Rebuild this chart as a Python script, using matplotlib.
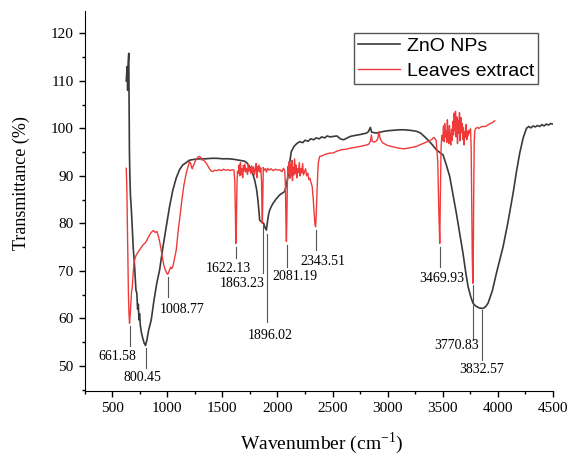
import numpy as np
import matplotlib
matplotlib.use("Agg")
import matplotlib.pyplot as plt
from matplotlib.ticker import MultipleLocator

# ZnO NPs spectrum (wavenumber, transmittance)
zno_x = [627, 635, 640, 645, 650, 653, 656, 660, 665, 672, 680, 690, 703, 710, 715, 723, 730, 737,
         742, 748, 755, 765, 775, 790, 802, 815, 830, 854, 880, 905, 930, 960, 990, 1020, 1050, 1080,
         1111, 1140, 1172, 1200, 1250, 1300, 1350, 1400, 1450, 1500, 1550, 1600, 1650, 1700, 1720,
         1747, 1770, 1792, 1810, 1822, 1832, 1838, 1850, 1862, 1875, 1885, 1899, 1910, 1920, 1929,
         1945, 1959, 1990, 2020, 2040, 2065, 2080, 2095, 2110, 2125, 2150, 2175, 2201, 2230, 2250,
         2280, 2300, 2330, 2350, 2380, 2400, 2430, 2450, 2480, 2503, 2540, 2570, 2600, 2625, 2660,
         2700, 2750, 2807, 2825, 2843, 2855, 2898, 2950, 3000, 3050, 3109, 3150, 3200, 3260, 3300,
         3351, 3400, 3442, 3470, 3503, 3530, 3563, 3590, 3624, 3655, 3684, 3710, 3730, 3755, 3775,
         3800, 3832, 3866, 3890, 3911, 3950, 3987, 4020, 4048, 4090, 4139, 4170, 4199, 4230, 4260,
         4280, 4300, 4320, 4340, 4360, 4381, 4400, 4420, 4440, 4460, 4480, 4500]
zno_y = [110, 113, 108, 114, 115.8, 104, 95, 90, 86, 83.5, 80, 75, 70.9, 68, 66, 65.3, 62, 63,
         59.7, 61, 58.5, 57, 56, 54.8, 54.3, 55.5, 57.5, 59.7, 64, 67.5, 70.2, 75, 79.3, 83.5, 87, 89.5,
         91.3, 92.3, 92.8, 93.3, 93.5, 93.6, 93.6, 93.7, 93.7, 93.6, 93.6, 93.5, 93.3, 93.1, 92.8,
         92, 90.8, 89.2, 87.2, 85, 82.5, 80.7, 80.4, 80.2, 80, 79.2, 78.6, 80.5, 82, 82.8,
         83.6, 84.2, 85.2, 86, 86.3, 86.7, 88, 89.9, 92.7, 95.1, 96.2, 96.8, 97.2, 97.0, 97.5,
         97.3, 97.8, 97.6, 98, 97.8, 98.2, 98.0, 98.4, 98.2, 98.3, 98.4, 97.8, 97.6, 97.9, 98.3,
         98.5, 98.7, 99, 99.3, 100.2, 99.2, 99, 99.3, 99.5, 99.6, 99.7, 99.7, 99.6, 99.4, 99,
         97.9, 96.7, 95.5, 95, 94.4, 92.5, 89.9, 86.5, 82.1, 77.8, 73.7, 69.5, 66.7, 64.5, 63.2,
         62.6, 62.2, 62.1, 62.5, 63.2, 65.8, 69.5, 72.5, 75.1, 80, 86.4, 91, 94.8, 98, 100,
         100.4, 100.1, 100.5, 100.3, 100.6, 100.4, 100.8, 100.5, 100.9, 100.7, 101.0, 100.9]

# Leaves extract spectrum
leaf_x = [627, 632, 637, 642, 647, 652, 657, 662, 668, 675, 682, 690, 697, 703, 715, 730, 748, 765,
          780, 795, 809, 825, 840, 850, 863, 875, 890, 905, 915, 922, 930, 940, 950, 960, 970, 980,
          990, 996, 1003, 1010, 1020, 1030, 1040, 1050, 1060, 1070, 1081, 1090, 1100, 1111, 1120,
          1130, 1141, 1150, 1160, 1172, 1185, 1195, 1202, 1212, 1220, 1228, 1232, 1240, 1250, 1260,
          1270, 1280, 1293, 1305, 1315, 1325, 1340, 1353, 1370, 1385, 1400, 1414, 1430, 1450, 1470,
          1490, 1510, 1530, 1550, 1570, 1590, 1605, 1612, 1618, 1622, 1627, 1632, 1637, 1645, 1652,
          1658, 1664, 1670, 1677, 1684, 1690, 1697, 1704, 1712, 1720, 1728, 1735, 1742, 1750, 1758,
          1766, 1774, 1782, 1790, 1798, 1806, 1812, 1818, 1825, 1832, 1840, 1848, 1855, 1860, 1863,
          1867, 1871, 1880, 1890, 1900, 1910, 1925, 1940, 1960, 1980, 2000, 2020, 2040, 2055, 2066,
          2072, 2077, 2081, 2085, 2090, 2095, 2100, 2106, 2112, 2118, 2124, 2130, 2136, 2142, 2148,
          2155, 2162, 2168, 2175, 2182, 2190, 2198, 2205, 2212, 2220, 2228, 2236, 2245, 2255, 2265,
          2275, 2285, 2295, 2305, 2315, 2325, 2333, 2340, 2346, 2352, 2358, 2365, 2372, 2383, 2400,
          2430, 2474, 2503, 2540, 2580, 2620, 2655, 2700, 2750, 2807, 2830, 2845, 2852, 2860, 2875,
          2895, 2910, 2921, 2930, 2945, 2958, 3000, 3050, 3109, 3150, 3200, 3260, 3300, 3350, 3397,
          3420, 3440, 3455, 3465, 3473, 3478, 3485, 3492, 3500, 3507, 3512, 3518, 3524, 3530, 3536,
          3542, 3548, 3555, 3561, 3567, 3573, 3580, 3586, 3592, 3598, 3604, 3610, 3616, 3622, 3628,
          3634, 3640, 3646, 3652, 3658, 3664, 3670, 3676, 3682, 3688, 3694, 3700, 3706, 3712, 3718,
          3724, 3730, 3738, 3745, 3752, 3758, 3763, 3768, 3773, 3777, 3781, 3786, 3792, 3800, 3815,
          3830, 3845, 3860, 3880, 3897, 3915, 3930, 3950, 3972]
leaf_y = [91.6, 88, 80, 72, 65, 61, 59, 60.5, 63, 65.5, 66.7, 69.5, 71.5, 72.3, 73.2, 73.8, 74.4, 75,
          75.5, 75.8, 76.2, 77, 77.6, 78, 78.3, 78.5, 78.1, 78.3, 77.6, 77, 76.2, 75, 73.5, 72.3, 71, 70.3,
          69.8, 69.5, 69.3, 69.6, 70.2, 70.8, 70.5, 70.9, 72, 73.2, 74.4, 76.5, 78.8, 80.7, 82.5,
          84.5, 86.4, 88, 89.2, 90.6, 91.7, 92.5, 93, 92.6, 91.8, 91.5, 92, 92.3, 92.9, 93.4,
          93.7, 94, 94.1, 93.8, 93.3, 93.5, 93, 92.7, 92, 91.4, 91, 90.9, 91.2, 91.1, 91.3,
          91.1, 91.4, 91.2, 91.3, 91.1, 91.3, 91.2, 89, 82, 75.8, 80, 88, 91, 90.5, 92.3,
          90, 92.8, 90.3, 91.5, 89.6, 92.2, 91, 92.5, 90.8, 91.6, 90.3, 92.4, 91, 91.8, 90.5,
          92.1, 90.7, 91.9, 90.2, 91.5, 92.6, 89.6, 92, 91, 92.3, 90.8, 91.7, 89, 82, 80,
          86, 91.8, 91.2, 91.5, 90.8, 91.6, 91.2, 91.5, 91.1, 91.4, 91.2, 91.3, 90.9, 91.6, 91,
          88, 80, 76.2, 81, 88.5, 92, 90.5, 93, 89.5, 92.5, 90, 93.3, 89, 91.8, 90.2,
          93.6, 90.5, 92.3, 89.6, 91.5, 90.7, 92.8, 90, 91.5, 90.6, 92.6, 90.2, 90.8, 91.5, 90,
          90.6, 89.2, 89.5, 88.5, 87.8, 85, 82, 79.8, 79.3, 82, 86, 90.5, 93, 94.1, 94.2,
          94.5, 94.8, 94.8, 95.2, 95.5, 95.6, 95.8, 96, 96.2, 96.5, 96.7, 97.4, 98.6, 97.3, 97.1,
          97.3, 97.8, 99.3, 98, 97.3, 96.9, 96.4, 96.1, 95.8, 95.7, 95.9, 96.2, 96.6, 97.1, 97.6,
          98.1, 97.5, 93, 82, 75.8, 85, 96, 98.5, 97.5, 100.5, 97.2, 101, 98.2, 99.5, 97,
          101.8, 98.5, 96.8, 100.6, 98, 96.5, 99.8, 97.5, 101.5, 98.6, 103.2, 99.5, 103.6, 98.2, 102.4,
          96.8, 101.7, 99, 103.3, 97.4, 102.3, 99.1, 101, 97.7, 100.2, 96.5, 99.3, 98.1, 100.8, 97.6,
          99.4, 98.4, 99.6, 99, 99.9, 96, 85, 73, 67.4, 72, 86, 97.5, 99.6, 100, 100.2,
          100, 100.3, 100.4, 100.4, 100.5, 100.8, 101, 101.2, 101.6]

# peak labels: text, line x, line top, line bottom, text x, text y
peak_txt = ['661.58', '800.45', '1008.77', '1622.13', '1863.23', '1896.02',
            '2081.19', '2343.51', '3469.93', '3770.83', '3832.57']
peak_x = [663, 802, 1008, 1624, 1864, 1902, 2083, 2346, 3476, 3775, 3852]
line_top = [58.4, 53.7, 68.8, 75.1, 79.7, 77.8, 75.5, 78.6, 75.1, 67.1, 61.8]
line_bot = [54.2, 49.5, 64.6, 72.7, 69.5, 59.3, 70.9, 74.4, 70.9, 55.5, 51.3]
txt_x = [544, 778, 1132, 1556, 1680, 1935, 2158, 2413, 3488, 3624, 3854]
txt_y = [52.0, 47.6, 61.9, 70.6, 67.4, 56.5, 68.8, 72.0, 68.5, 54.4, 49.2]

serif = 'Liberation Serif'

fig = plt.figure(figsize=(5.7, 4.58), dpi=100)
ax = fig.add_axes([0.1486, 0.147, 0.8214, 0.829])

ax.plot(zno_x, zno_y, color='#3a3a3a', lw=1.2, label='ZnO NPs')
ax.plot(leaf_x, leaf_y, color='#f03a3a', lw=1.0, label='Leaves extract')

for i in range(len(peak_txt)):
    ax.plot([peak_x[i], peak_x[i]], [line_top[i], line_bot[i]], color='#555555', lw=0.8)
    ax.text(txt_x[i], txt_y[i], peak_txt[i], ha='center', va='center',
            fontsize=10, family=serif)

ax.set_xlim(250, 4500)
ax.set_ylim(44.8, 124.7)
ax.xaxis.set_major_locator(MultipleLocator(500))
ax.xaxis.set_minor_locator(MultipleLocator(250))
ax.yaxis.set_major_locator(MultipleLocator(10))
ax.yaxis.set_minor_locator(MultipleLocator(5))
ax.set_xticks(range(500, 4501, 500))
ax.set_yticks(range(50, 121, 10))
ax.tick_params(which='major', direction='out', length=4, width=1, labelsize=11, pad=4)
ax.tick_params(which='minor', direction='out', length=2.5, width=1)
for lab in ax.get_xticklabels() + ax.get_yticklabels():
    lab.set_family(serif)

ax.spines['top'].set_visible(False)
ax.spines['right'].set_visible(False)

ax.set_xlabel('Wavenumber (cm$^{\\mathregular{-1}}$)', fontsize=14, family=serif)
ax.set_ylabel('Transmittance (%)', fontsize=13, family=serif)
ax.xaxis.set_label_coords(0.506, -0.103)
ax.yaxis.set_label_coords(-0.117, 0.548)

leg = ax.legend(loc='upper right', bbox_to_anchor=(0.968, 0.942), borderaxespad=0,
                prop={'family': 'Liberation Sans', 'size': 14}, handlelength=2.15,
                handletextpad=0.35, labelspacing=0.4, borderpad=0.2,
                fancybox=False, framealpha=1)
leg.get_frame().set_edgecolor('#555555')
leg.get_frame().set_linewidth(1)

fig.savefig('out.png', dpi=100)
